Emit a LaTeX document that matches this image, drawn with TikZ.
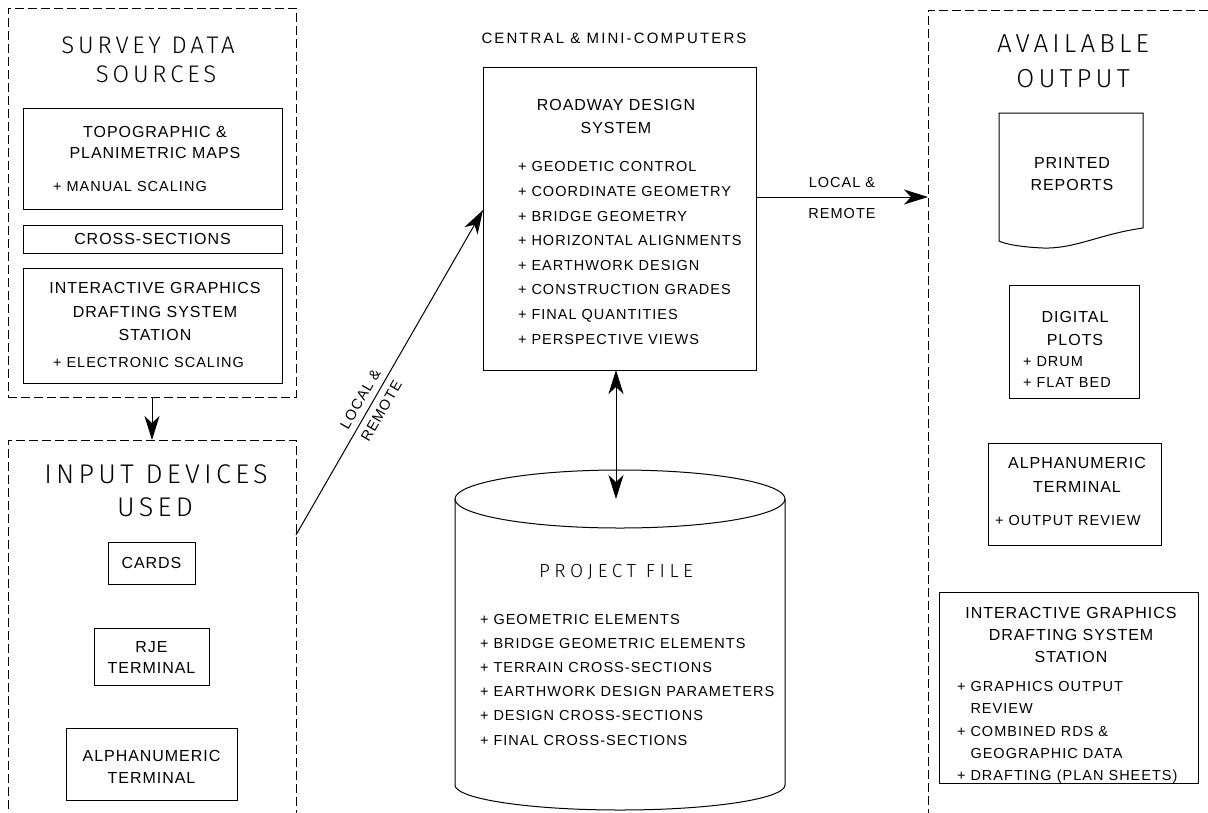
\documentclass[tikz,border=0pt]{standalone}
\usepackage{fontspec}
\usetikzlibrary{arrows.meta}
\newfontfamily\bodyf{Liberation Sans}[LetterSpace=7]
\newfontfamily\headf{Liberation Sans}[LetterSpace=6]
\newfontfamily\widef{Liberation Sans}[LetterSpace=14]
\newfontfamily\titlef{Fira Sans Light}[LetterSpace=16]
\newfontfamily\pff{Fira Sans Light}[LetterSpace=24]
\begin{document}
\begin{tikzpicture}[x=1pt,y=-1pt,
  every node/.style={inner sep=0pt,outer sep=0pt},
  ln/.style={line width=1pt},
  panel/.style={draw,line width=1pt,dash pattern=on 9pt off 4pt},
  box/.style={draw,line width=1pt},
  head/.style={font=\headf\fontsize{16pt}{#1}\selectfont,align=center},
  head/.default=22pt,
  items/.style={font=\bodyf\fontsize{14.5pt}{#1}\selectfont,align=left,anchor=west},
  items/.default=24.6pt,
  lbl/.style={font=\bodyf\fontsize{14.5pt}{17pt}\selectfont},
  ttl/.style={font=\titlef\fontsize{#1}{#1}\selectfont},
  tip/.style={Stealth[length=24pt,width=15pt,inset=7pt]},
  arr/.style={line width=1pt,-{Stealth[length=24pt,width=15pt,inset=7pt]}},
  darr/.style={line width=1pt,{Stealth[length=24pt,width=15pt,inset=7pt]}-{Stealth[length=24pt,width=15pt,inset=7pt]}}]
\useasboundingbox (0,0) rectangle (1208,812);
\clip (0,0) rectangle (1208,812);

% ---------- survey data sources ----------
\node[panel,minimum width=288pt,minimum height=389pt] (p1) at (152,202.5) {};
\node[ttl=24pt] (p1t1) at (148,45) {SURVEY DATA};
\node[ttl=24pt] (p1t2) at (156,74) {SOURCES};
\node[box,minimum width=259pt,minimum height=101pt] (topo) at (152.5,158.5) {};
\node[head=21pt] (topot) at (155,142.5) {TOPOGRAPHIC \&\\PLANIMETRIC MAPS};
\node[items] (topoi) at (53,187) {+ MANUAL SCALING};
\node[box,minimum width=259pt,minimum height=28pt] (cross) at (152.5,239) {};
\node[head] (crosst) at (152.5,239) {CROSS-SECTIONS};
\node[box,minimum width=259pt,minimum height=115pt] (igds1) at (152.5,325.5) {};
\node[head=23.5pt] (igds1t) at (155,311.5) {INTERACTIVE GRAPHICS\\DRAFTING SYSTEM\\STATION};
\node[items] (igds1i) at (53,363) {+ ELECTRONIC SCALING};

% ---------- input devices ----------
\node[panel,minimum width=288pt,minimum height=390pt] (p2) at (152,635) {};
\node[ttl=27pt] (p2t1) at (156,474) {INPUT DEVICES};
\node[ttl=27pt] (p2t2) at (155,507) {USED};
\node[box,minimum width=87pt,minimum height=42pt] (cards) at (151.5,563) {};
\node[head] (cardst) at (151.5,563) {CARDS};
\node[box,minimum width=115pt,minimum height=57pt] (rje) at (151.5,656.5) {};
\node[head=21pt] (rjet) at (151.5,657.5) {RJE\\TERMINAL};
\node[box,minimum width=171pt,minimum height=72pt] (alpha1) at (151.5,764) {};
\node[head=22pt] (alpha1t) at (151.5,767) {ALPHANUMERIC\\TERMINAL};

\draw[arr] (p1.south) -- (p2.north);

% ---------- roadway design system ----------
\node[font=\widef\fontsize{15pt}{15pt}\selectfont] (cmc) at (614,38) {CENTRAL \& MINI-COMPUTERS};
\node[box,minimum width=273pt,minimum height=303pt] (rds) at (619.5,218.5) {};
\node[head=23pt] (rdst) at (616,116.5) {ROADWAY DESIGN\\SYSTEM};
\node[items] (rdsi) at (518,253) {+ GEODETIC CONTROL\\+ COORDINATE GEOMETRY\\+ BRIDGE GEOMETRY\\+ HORIZONTAL ALIGNMENTS\\+ EARTHWORK DESIGN\\+ CONSTRUCTION GRADES\\+ FINAL QUANTITIES\\+ PERSPECTIVE VIEWS};

\draw[arr] ([yshift=-95pt]p2.north east) -- ([yshift=8.5pt]rds.west)
  node[lbl,sloped,pos=0.40,above=7pt] {LOCAL \&}
  node[lbl,sloped,pos=0.40,below=7pt] {REMOTE};

% ---------- project file ----------
\coordinate (pf) at (620,499);
\coordinate (pfin) at (616,499);
\draw[ln] (pf) ellipse [x radius=165pt,y radius=29pt];
\draw[ln] ([xshift=-165pt]pf) -- ++(0,286)
  arc[start angle=180,end angle=360,x radius=165pt,y radius=25pt]
  -- ([xshift=165pt]pf);
\node[font=\pff\fontsize{19pt}{19pt}\selectfont] (pft) at (616,572) {PROJECT FILE};
\node[items=24.2pt] (pfi) at (480,679.5) {+ GEOMETRIC ELEMENTS\\+ BRIDGE GEOMETRIC ELEMENTS\\+ TERRAIN CROSS-SECTIONS\\+ EARTHWORK DESIGN PARAMETERS\\+ DESIGN CROSS-SECTIONS\\+ FINAL CROSS-SECTIONS};

\draw[darr] (rds.south -| pfin) -- (pfin);

% ---------- available output ----------
\node[panel,minimum width=302pt,minimum height=820pt] (p3) at (1079,420) {};
\node[ttl=26pt] (p3t1) at (1073,44) {AVAILABLE};
\node[ttl=26pt] (p3t2) at (1073,79) {OUTPUT};

\draw[arr] ([yshift=21.5pt]rds.east) -- ([yshift=21.5pt]rds.east -| p3.west)
  node[lbl,midway,above=9pt] {LOCAL \&}
  node[lbl,midway,below=11pt] {REMOTE};

\draw[ln] (999,113) -- (1143,113) -- (1143,228)
  .. controls (1100,234) and (1075,249) .. (1043,248)
  .. controls (1020,247) and (1005,244) .. (999,241) -- cycle;
\node[head=22pt] (rept) at (1072,174) {PRINTED\\REPORTS};

\node[box,minimum width=130pt,minimum height=113pt] (dig) at (1074,341.5) {};
\node[head=23pt] (digt) at (1075,328.5) {DIGITAL\\PLOTS};
\node[items=21pt] (digi) at (1023,372.5) {+ DRUM\\+ FLAT BED};

\node[box,minimum width=173pt,minimum height=102pt] (alpha2) at (1074.5,494) {};
\node[head=24pt] (alpha2t) at (1077,475) {ALPHANUMERIC\\TERMINAL};
\node[items] (alpha2i) at (995,520) {+ OUTPUT REVIEW};

\node[box,minimum width=259pt,minimum height=191pt] (igds2) at (1068.5,687.5) {};
\node[head=22pt] (igds2t) at (1071,635) {INTERACTIVE GRAPHICS\\DRAFTING SYSTEM\\STATION};
\node[items=22.25pt] (igds2i) at (957,732.5) {+ GRAPHICS OUTPUT\\\hphantom{+ }REVIEW\\+ COMBINED RDS \&\\\hphantom{+ }GEOGRAPHIC DATA\\+ DRAFTING (PLAN SHEETS)};
\end{tikzpicture}
\end{document}
